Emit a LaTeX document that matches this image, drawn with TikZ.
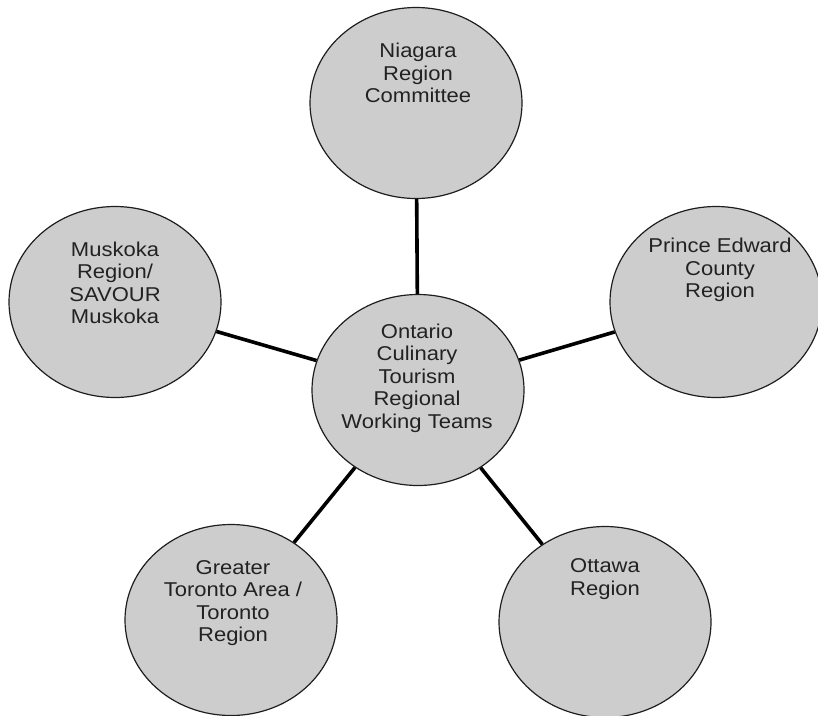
\documentclass[tikz,border=0pt]{standalone}
\usepackage{fontspec}
\newfontfamily\lblfont[FakeStretch=1.1]{Liberation Sans}
\usetikzlibrary{shapes.geometric}
\definecolor{bubblefill}{HTML}{CDCDCD}
\definecolor{bubbleline}{HTML}{1E1E1E}
\definecolor{inktext}{HTML}{222222}
\tikzset{
  bubble/.style={ellipse, draw=bubbleline, line width=1.2pt, fill=bubblefill,
    minimum width=212pt, minimum height=191pt, inner sep=0pt},
  lbl/.style={align=center, text=inktext, inner sep=0pt,
    font=\lblfont\fontsize{20}{22.5}\selectfont},
  spoke/.style={line width=3.6pt, black}
}
\begin{document}
\begin{tikzpicture}[x=1pt, y=-1pt]
  \useasboundingbox (0,0) rectangle (818,715);
  \clip (0,0) rectangle (818,715);

  % regional teams around the hub
  \node[bubble] (hub) at (418,390) {};
  \node[bubble] (niagara) at (416,103) {};
  \node[bubble] (prince) at (716,302) {};
  \node[bubble] (muskoka) at (115,302) {};
  \node[bubble] (toronto) at (231,620) {};
  \node[bubble] (ottawa) at (605,622) {};

  % spokes
  \draw[spoke] (hub) -- (niagara);
  \draw[spoke] (hub) -- (prince);
  \draw[spoke] (hub) -- (muskoka);
  \draw[spoke] (hub) -- (toronto);
  \draw[spoke] (hub) -- (ottawa);

  % labels
  \node[lbl] (hub-t) at (417,378) {Ontario\\Culinary\\Tourism\\Regional\\Working Teams};
  \node[lbl] (niagara-t) at (418,73) {Niagara\\Region\\Committee};
  \node[lbl] (prince-t) at (720,270) {Prince Edward\\County\\Region};
  \node[lbl] (muskoka-t) at (115,283) {Muskoka\\Region/\\SAVOUR\\Muskoka};
  \node[lbl] (toronto-t) at (233,603) {Greater\\Toronto Area /\\Toronto\\Region};
  \node[lbl] (ottawa-t) at (605,579) {Ottawa\\Region};
\end{tikzpicture}
\end{document}
